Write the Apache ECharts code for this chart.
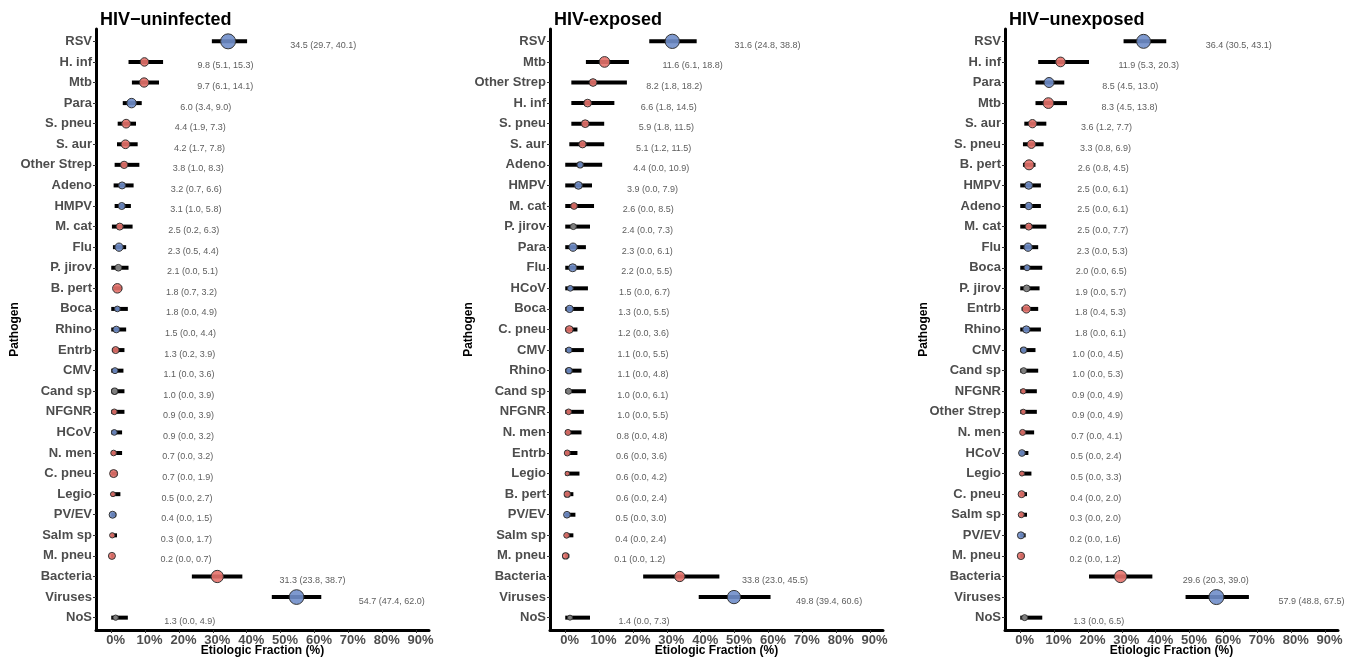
<!DOCTYPE html>
<html>
<head>
<meta charset="utf-8">
<title>Etiologic fraction by HIV status</title>
<script src="https://cdn.jsdelivr.net/npm/echarts@6/dist/echarts.min.js"></script>
<style>
  html, body { margin: 0; padding: 0; background: #fff; }
  #chart { width: 1356px; height: 659px; }
</style>
</head>
<body>
<div id="chart"></div>
<script>
// panel titles
const panelTitles = ['HIV\u2212uninfected', 'HIV-exposed', 'HIV\u2212unexposed']

// HIV-uninfected
const names1 = ['RSV', 'H. inf', 'Mtb', 'Para', 'S. pneu', 'S. aur', 'Other Strep', 'Adeno', 'HMPV', 'M. cat', 'Flu', 'P. jirov', 'B. pert', 'Boca', 'Rhino', 'Entrb', 'CMV', 'Cand sp', 'NFGNR', 'HCoV', 'N. men', 'C. pneu', 'Legio', 'PV/EV', 'Salm sp', 'M. pneu', 'Bacteria', 'Viruses', 'NoS']
const est1 = [34.5, 9.8, 9.7, 6.0, 4.4, 4.2, 3.8, 3.2, 3.1, 2.5, 2.3, 2.1, 1.8, 1.8, 1.5, 1.3, 1.1, 1.0, 0.9, 0.9, 0.7, 0.7, 0.5, 0.4, 0.3, 0.2, 31.3, 54.7, 1.3]
const lo1 = [29.7, 5.1, 6.1, 3.4, 1.9, 1.7, 1.0, 0.7, 1.0, 0.2, 0.5, 0.0, 0.7, 0.0, 0.0, 0.2, 0.0, 0.0, 0.0, 0.0, 0.0, 0.0, 0.0, 0.0, 0.0, 0.0, 23.8, 47.4, 0.0]
const hi1 = [40.1, 15.3, 14.1, 9.0, 7.3, 7.8, 8.3, 6.6, 5.8, 6.3, 4.4, 5.1, 3.2, 4.9, 4.4, 3.9, 3.6, 3.9, 3.9, 3.2, 3.2, 1.9, 2.7, 1.5, 1.7, 0.7, 38.7, 62.0, 4.9]
const weight1 = [15, 8.5, 9.3, 9.5, 8.7, 8.7, 7.3, 7, 7, 7, 8.3, 6.7, 9.5, 5.7, 6.7, 7, 6, 6.3, 5.7, 5.7, 5.7, 8, 5, 7, 5.3, 7, 12.3, 14.7, 5.3]

// HIV-exposed
const names2 = ['RSV', 'Mtb', 'Other Strep', 'H. inf', 'S. pneu', 'S. aur', 'Adeno', 'HMPV', 'M. cat', 'P. jirov', 'Para', 'Flu', 'HCoV', 'Boca', 'C. pneu', 'CMV', 'Rhino', 'Cand sp', 'NFGNR', 'N. men', 'Entrb', 'Legio', 'B. pert', 'PV/EV', 'Salm sp', 'M. pneu', 'Bacteria', 'Viruses', 'NoS']
const est2 = [31.6, 11.6, 8.2, 6.6, 5.9, 5.1, 4.4, 3.9, 2.6, 2.4, 2.3, 2.2, 1.5, 1.3, 1.2, 1.1, 1.1, 1.0, 1.0, 0.8, 0.6, 0.6, 0.6, 0.5, 0.4, 0.1, 33.8, 49.8, 1.4]
const lo2 = [24.8, 6.1, 1.8, 1.8, 1.8, 1.2, 0.0, 0.0, 0.0, 0.0, 0.0, 0.0, 0.0, 0.0, 0.0, 0.0, 0.0, 0.0, 0.0, 0.0, 0.0, 0.0, 0.0, 0.0, 0.0, 0.0, 23.0, 39.4, 0.0]
const hi2 = [38.8, 18.8, 18.2, 14.5, 11.5, 11.5, 10.9, 7.9, 8.5, 7.3, 6.1, 5.5, 6.7, 5.5, 3.6, 5.5, 4.8, 6.1, 5.5, 4.8, 3.6, 4.2, 2.4, 3.0, 2.4, 1.2, 45.5, 60.6, 7.3]
const weight2 = [14.3, 10.7, 7.7, 7.7, 7.7, 7.3, 6.3, 7.7, 6.7, 6, 8.3, 8, 5.7, 7.3, 7.7, 6, 6.3, 6, 5.7, 6, 6, 4.5, 6.3, 6.7, 5.7, 6.3, 10.3, 13.3, 5]

// HIV-unexposed
const names3 = ['RSV', 'H. inf', 'Para', 'Mtb', 'S. aur', 'S. pneu', 'B. pert', 'HMPV', 'Adeno', 'M. cat', 'Flu', 'Boca', 'P. jirov', 'Entrb', 'Rhino', 'CMV', 'Cand sp', 'NFGNR', 'Other Strep', 'N. men', 'HCoV', 'Legio', 'C. pneu', 'Salm sp', 'PV/EV', 'M. pneu', 'Bacteria', 'Viruses', 'NoS']
const est3 = [36.4, 11.9, 8.5, 8.3, 3.6, 3.3, 2.6, 2.5, 2.5, 2.5, 2.3, 2.0, 1.9, 1.8, 1.8, 1.0, 1.0, 0.9, 0.9, 0.7, 0.5, 0.5, 0.4, 0.3, 0.2, 0.2, 29.6, 57.9, 1.3]
const lo3 = [30.5, 5.3, 4.5, 4.5, 1.2, 0.8, 0.8, 0.0, 0.0, 0.0, 0.0, 0.0, 0.0, 0.4, 0.0, 0.0, 0.0, 0.0, 0.0, 0.0, 0.0, 0.0, 0.0, 0.0, 0.0, 0.0, 20.3, 48.8, 0.0]
const hi3 = [43.1, 20.3, 13.0, 13.8, 7.7, 6.9, 4.5, 6.1, 6.1, 7.7, 5.3, 6.5, 5.7, 5.3, 6.1, 4.5, 5.3, 4.9, 4.9, 4.1, 2.4, 3.3, 2.0, 2.0, 1.6, 1.2, 39.0, 67.5, 6.5]
const weight3 = [14, 9.7, 10, 10.7, 8.3, 8.3, 10, 7.7, 7.3, 7, 8.3, 6, 6.7, 8.3, 7.3, 6.3, 6, 5.3, 5.3, 6, 6.7, 5, 7, 6, 7, 7.3, 12.3, 15, 6]

// x ticks
const xTicks = [0, 10, 20, 30, 40, 50, 60, 70, 80, 90]

// pathogen groups
const viruses = ['RSV', 'Para', 'Adeno', 'HMPV', 'Flu', 'Boca', 'Rhino', 'CMV', 'HCoV', 'PV/EV', 'Viruses']
const other = ['P. jirov', 'Cand sp', 'NoS']

const panels = [
  { names: names1, est: est1, lo: lo1, hi: hi1, weight: weight1 },
  { names: names2, est: est2, lo: lo2, hi: hi2, weight: weight2 },
  { names: names3, est: est3, lo: lo3, hi: hi3, weight: weight3 }
]

const gridLeft = [96, 550, 1005]
const gridTop = 29
const gridWidth = 333
const gridHeight = 601

function colorOf(name) {
  if (viruses.includes(name)) return 'rgba(112, 142, 202, 0.9)'
  if (other.includes(name)) return 'rgba(140, 140, 140, 0.9)'
  return 'rgba(230, 114, 108, 0.9)'
}

function fmt(v) {
  return v.toFixed(1)
}

const chart = echarts.init(document.getElementById('chart'))

const grid = []
const xAxis = []
const yAxis = []
const title = []
const series = []

panels.forEach((p, k) => {
  const idx = p.names.map((_, i) => i)
  grid.push({
    left: gridLeft[k],
    top: gridTop,
    width: gridWidth,
    height: gridHeight,
    containLabel: false,
    outerBoundsMode: 'none'
  })
  title.push({
    text: panelTitles[k],
    left: gridLeft[k] - 1,
    top: 6,
    textStyle: { fontSize: 18, fontWeight: 'bold', color: '#000' }
  })
  xAxis.push({
    type: 'value',
    gridIndex: k,
    min: -4.5,
    max: 93.8,
    splitLine: { show: false },
    axisLine: { show: true, onZero: false, lineStyle: { color: '#000', width: 3 } },
    axisTick: { show: true, customValues: xTicks, length: 3, lineStyle: { color: '#333' } },
    axisLabel: {
      customValues: xTicks,
      formatter: v => v + '%',
      fontSize: 13,
      fontWeight: 'bold',
      color: '#4d4d4d',
      margin: 4,
      padding: [0, 0, 0, 9]
    },
    name: 'Etiologic Fraction (%)',
    nameLocation: 'middle',
    nameGap: 15,
    nameMoveOverlap: false,
    nameTextStyle: { fontSize: 12, fontWeight: 'bold', color: '#000' }
  })
  yAxis.push({
    type: 'value',
    gridIndex: k,
    inverse: true,
    min: -0.6,
    max: p.names.length - 0.4,
    splitLine: { show: false },
    axisLine: { show: true, onZero: false, lineStyle: { color: '#000', width: 3 } },
    axisTick: { show: true, customValues: idx, length: 3, lineStyle: { color: '#333' } },
    axisLabel: {
      customValues: idx,
      formatter: v => p.names[v],
      fontSize: 13,
      fontWeight: 'bold',
      color: '#4d4d4d',
      margin: 4
    },
    name: 'Pathogen',
    nameLocation: 'middle',
    nameGap: 75,
    nameMoveOverlap: false,
    nameTextStyle: { fontSize: 12, fontWeight: 'bold', color: '#000' }
  })

  // error bars
  series.push({
    type: 'custom',
    xAxisIndex: k,
    yAxisIndex: k,
    silent: true,
    encode: { x: [0, 1], y: 2 },
    data: p.names.map((n, i) => [p.lo[i], p.hi[i], i]),
    renderItem: (params, api) => {
      const a = api.coord([api.value(0), api.value(2)])
      const b = api.coord([api.value(1), api.value(2)])
      return {
        type: 'line',
        shape: { x1: a[0], y1: a[1], x2: b[0], y2: b[1] },
        style: { stroke: '#000', lineWidth: 4 }
      }
    },
    z: 2
  })

  // points
  series.push({
    type: 'scatter',
    xAxisIndex: k,
    yAxisIndex: k,
    silent: true,
    data: p.names.map((n, i) => ({
      value: [p.est[i], i],
      symbolSize: p.weight[i],
      itemStyle: { color: colorOf(n) }
    })),
    itemStyle: { borderColor: '#333', borderWidth: 1, opacity: 1 },
    z: 3
  })

  // estimate text
  series.push({
    type: 'scatter',
    xAxisIndex: k,
    yAxisIndex: k,
    silent: true,
    symbolSize: 0,
    data: p.names.map((n, i) => {
      const txt = fmt(p.est[i]) + ' (' + fmt(p.lo[i]) + ', ' + fmt(p.hi[i]) + ')'
      return { value: [p.est[i] + 2.07 * txt.length - 7.1, i], name: txt }
    }),
    label: {
      show: true,
      position: 'inside',
      formatter: '{b}',
      offset: [0, 4],
      fontSize: 9,
      color: '#333'
    },
    z: 4
  })
})

const option = {
  animation: false,
  textStyle: { fontFamily: 'Liberation Sans, Arial, sans-serif' },
  title,
  grid,
  xAxis,
  yAxis,
  series
}

chart.setOption(option)

window.addEventListener('resize', () => {
  chart.resize()
})
</script>
</body>
</html>
